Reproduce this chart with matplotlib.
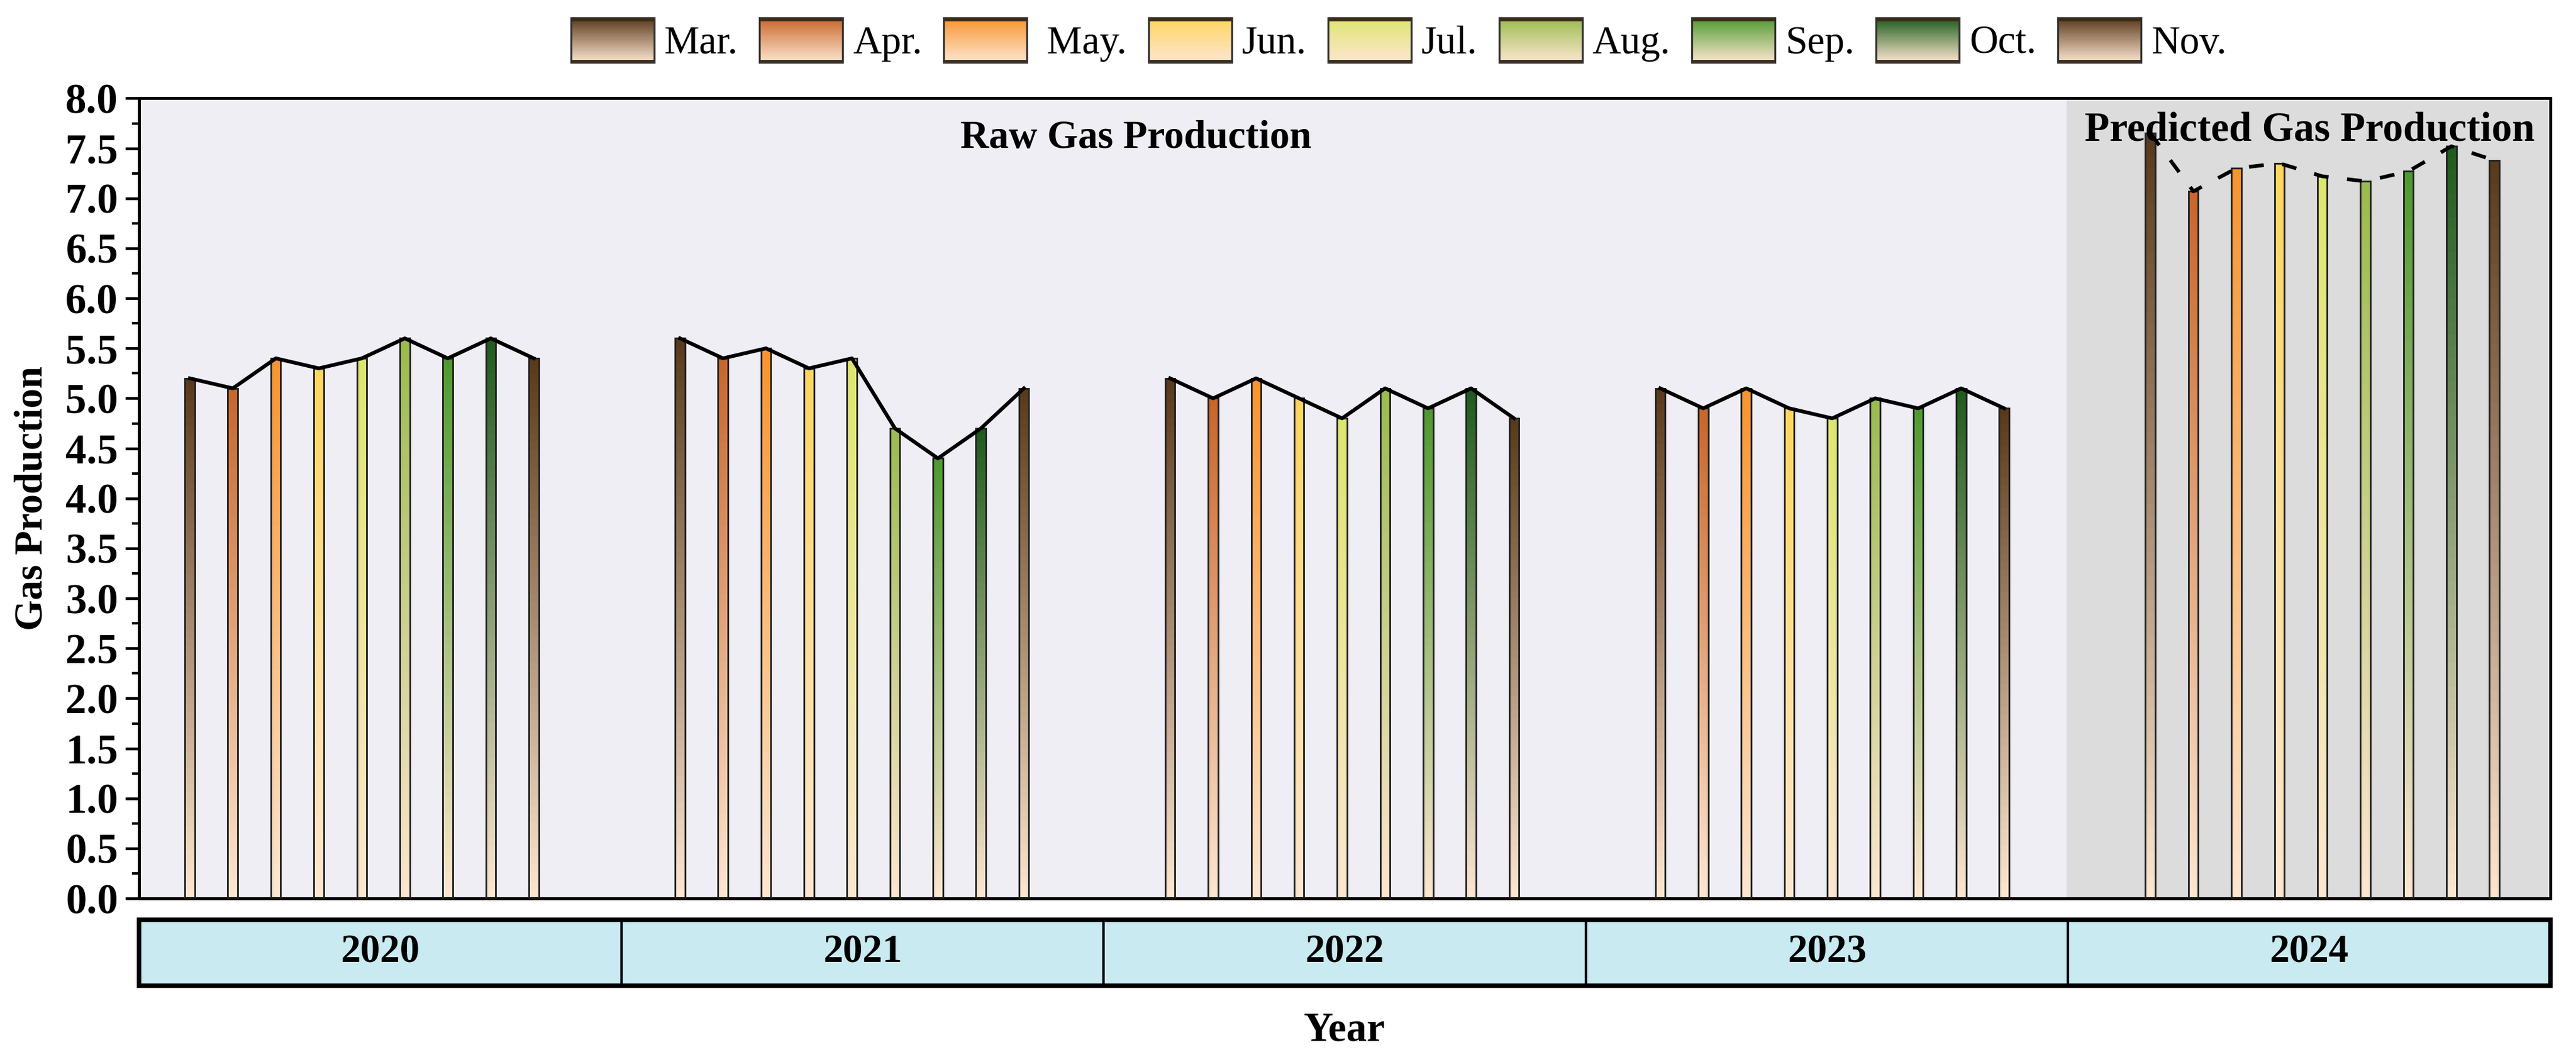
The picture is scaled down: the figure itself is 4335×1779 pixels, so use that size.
import matplotlib
matplotlib.use("Agg")
import matplotlib.pyplot as plt
import numpy as np
from matplotlib.patches import Rectangle
from matplotlib.legend_handler import HandlerBase
from matplotlib.colors import to_rgb
from matplotlib.ticker import MultipleLocator, FormatStrFormatter

plt.rcParams['font.family'] = ['Liberation Serif', 'DejaVu Serif']

years = ['2020', '2021', '2022', '2023', '2024']
months = ['Mar.', 'Apr.', ' May.', 'Jun.', 'Jul.', 'Aug.', 'Sep.', 'Oct.', 'Nov.']
month_colors = ['#5a3a1c', '#c8662c', '#f8942f', '#fdd55e', '#dde670',
                '#9bbb4f', '#4f9a30', '#1f5c1d', '#5a3a1c']
bottom_color = '#fde6d0'

gas_2020 = [5.2, 5.1, 5.4, 5.3, 5.4, 5.6, 5.4, 5.6, 5.4]
gas_2021 = [5.6, 5.4, 5.5, 5.3, 5.4, 4.7, 4.4, 4.7, 5.1]
gas_2022 = [5.2, 5.0, 5.2, 5.0, 4.8, 5.1, 4.9, 5.1, 4.8]
gas_2023 = [5.1, 4.9, 5.1, 4.9, 4.8, 5.0, 4.9, 5.1, 4.9]
gas_2024 = [7.65, 7.07, 7.3, 7.35, 7.22, 7.17, 7.27, 7.52, 7.38]
gas_all = [gas_2020, gas_2021, gas_2022, gas_2023, gas_2024]

group_step = 11.4
bar_w = 0.23
x_lo, x_hi = -1.18, 54.9


def gradient(top, n=64):
    t = np.linspace(0, 1, n)[:, None]
    c0 = np.array(to_rgb(bottom_color))
    c1 = np.array(to_rgb(top))
    return (c0 * (1 - t) + c1 * t)[:, None, :]


class GradHandler(HandlerBase):
    def create_artists(self, legend, orig_handle, xdescent, ydescent,
                       width, height, fontsize, trans):
        top = orig_handle.get_facecolor()
        arts = []
        n = 24
        for k in range(n):
            f = (k + 0.5) / n
            c = np.array(to_rgb(bottom_color)) * (1 - f) + np.array(top[:3]) * f
            r = Rectangle((-xdescent, -ydescent + height * k / n), width, height / n + 0.3,
                          facecolor=c, edgecolor='none', transform=trans)
            arts.append(r)
        arts.append(Rectangle((-xdescent, -ydescent), width, height, facecolor='none',
                              edgecolor='#333333', lw=0.8, transform=trans))
        arts.append(Rectangle((-xdescent, -ydescent + height * 0.92), width, height * 0.08,
                              facecolor='#3a2a1a', edgecolor='none', transform=trans))
        arts.append(Rectangle((-xdescent, -ydescent), width, height * 0.05,
                              facecolor='#3a2a1a', edgecolor='none', transform=trans))
        return arts


fig = plt.figure(figsize=(14.45, 5.93), dpi=300)
ax = fig.add_axes([0.054, 0.150, 0.936, 0.757])
ax.set_facecolor('#f0eef5')

# shaded prediction region
ax.axvspan(x_lo + 4 * (x_hi - x_lo) / 5, x_hi, color='#dcdcdc', zorder=0)

for g, vals in enumerate(gas_all):
    xs = g * group_step + np.arange(len(vals))
    bars = ax.bar(xs, vals, width=bar_w, facecolor='none', edgecolor='#222222',
                  lw=0.7, zorder=3)
    for b, col in zip(bars, month_colors):
        x0 = b.get_x()
        ax.imshow(gradient(col), origin='lower', aspect='auto', zorder=2,
                  extent=[x0, x0 + b.get_width(), 0, b.get_height()])
    if g < 4:
        ax.plot(xs, vals, color='black', lw=1.5, zorder=4)
    else:
        ax.plot(xs, vals, color='black', lw=1.5, ls=(0, (4, 5)), zorder=4)

ax.set_xlim(x_lo, x_hi)
ax.set_ylim(0, 8)
ax.set_xticks([])
ax.yaxis.set_major_locator(MultipleLocator(0.5))
ax.yaxis.set_minor_locator(MultipleLocator(0.25))
ax.yaxis.set_major_formatter(FormatStrFormatter('%.1f'))
ax.tick_params(axis='y', which='major', length=5.5, width=1.1, labelsize=17,
               direction='out', pad=3)
ax.tick_params(axis='y', which='minor', length=2.8, width=1.0, direction='out')
for lab in ax.get_yticklabels():
    lab.set_fontweight('bold')
for s in ax.spines.values():
    s.set_linewidth(1.2)
ax.set_ylabel('Gas Production', fontsize=16, fontweight='bold', labelpad=6)

ax.text(22.0, 7.6, 'Raw Gas Production', fontsize=16, fontweight='bold',
        ha='center', va='center', zorder=5)
ax.text(49.3, 7.68, 'Predicted Gas Production', fontsize=16.5, fontweight='bold',
        ha='center', va='center', zorder=5)

# year boxes
ax2 = fig.add_axes([0.054, 0.0675, 0.936, 0.0625])
ax2.set_xlim(0, 5)
ax2.set_ylim(0, 1)
ax2.axis('off')
for i, yr in enumerate(years):
    ax2.add_patch(Rectangle((i, 0), 1, 1, facecolor='#c8eaf0', edgecolor='black',
                            lw=1.0, clip_on=False))
    ax2.text(i + 0.5, 0.5, yr, fontsize=16, fontweight='bold', ha='center', va='center')
ax2.add_patch(Rectangle((0, 0), 5, 1, facecolor='none', edgecolor='black',
                        lw=1.8, clip_on=False))
fig.text(0.522, 0.025, 'Year', fontsize=16.5, fontweight='bold', ha='center', va='center')

# legend
handles = [Rectangle((0, 0), 1, 1, facecolor=c) for c in month_colors]
fig.legend(handles, months, loc='center', bbox_to_anchor=(0.543, 0.962), ncol=9,
           frameon=False, fontsize=16, handler_map={Rectangle: GradHandler()},
           handlelength=2.1, handleheight=1.35, columnspacing=0.55, handletextpad=0.25)

fig.savefig('out.png', dpi=300)
